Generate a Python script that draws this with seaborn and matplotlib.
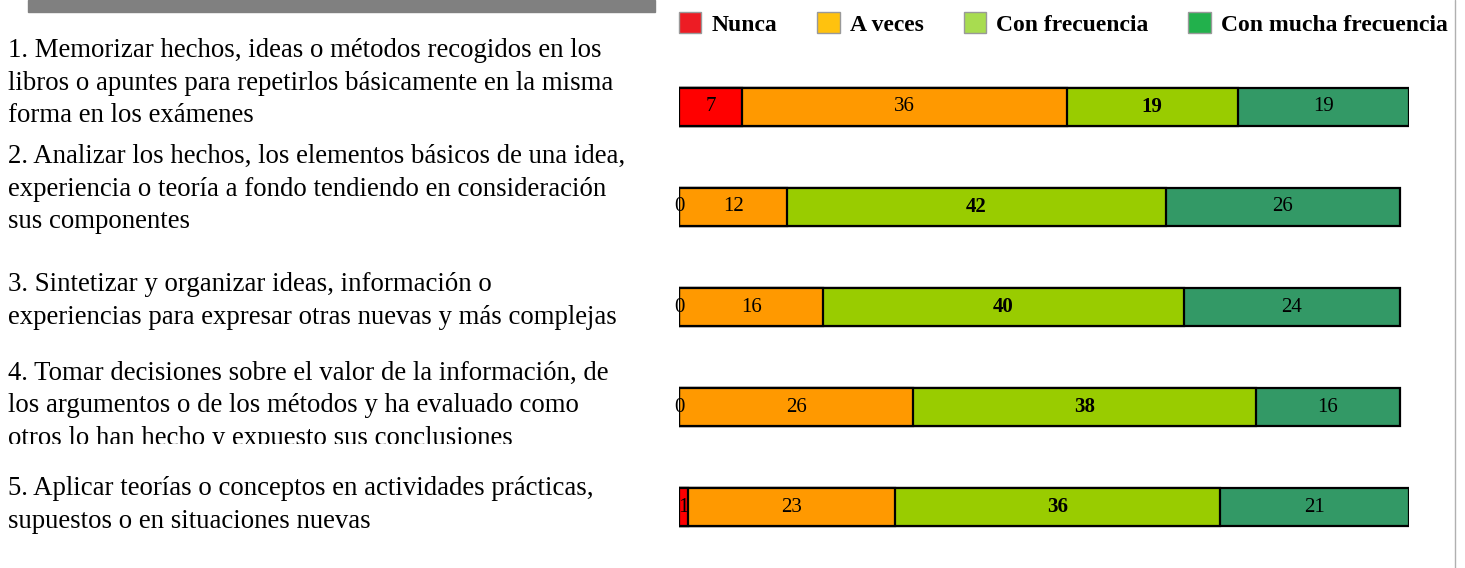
import matplotlib

matplotlib.use("Agg")
import matplotlib.pyplot as plt
import pandas as pd
import seaborn as sns
from matplotlib.lines import Line2D
from matplotlib.patches import Patch, Rectangle
from matplotlib.transforms import Bbox, TransformedBbox


ITEMS = [
    "1. Memorizar hechos, ideas o métodos recogidos en los\n"
    "libros o apuntes para repetirlos básicamente en la misma\n"
    "forma en los exámenes",
    "2. Analizar los hechos, los elementos básicos de una idea,\n"
    "experiencia o teoría a fondo tendiendo en consideración\n"
    "sus componentes",
    "3. Sintetizar y organizar ideas, información o\n"
    "experiencias para expresar otras nuevas y más complejas",
    "4. Tomar decisiones sobre el valor de la información, de\n"
    "los argumentos o de los métodos y ha evaluado como\n"
    "otros lo han hecho y expuesto sus conclusiones",
    "5. Aplicar teorías o conceptos en actividades prácticas,\n"
    "supuestos o en situaciones nuevas",
]
ITEM_IDS = ["1", "2", "3", "4", "5"]
CATEGORIES = ["Nunca", "A veces", "Con frecuencia", "Con mucha frecuencia"]
nunca = [7, 0, 0, 0, 1]
a_veces = [36, 12, 16, 26, 23]
con_frecuencia = [19, 42, 40, 38, 36]
con_mucha_frecuencia = [19, 26, 24, 16, 21]

BAR_COLORS = ["#ff0000", "#ff9900", "#99cc00", "#339966"]
LEGEND_COLORS = ["#ed1c24", "#ffc20e", "#a8dc50", "#22b14c"]

W, H = 1465, 568


def fx(px):
    return px / W


def fy(py):
    return 1 - py / H


df = pd.DataFrame(
    {
        "item": ITEM_IDS,
        "Nunca": nunca,
        "A veces": a_veces,
        "Con frecuencia": con_frecuencia,
        "Con mucha frecuencia": con_mucha_frecuencia,
    }
)
cum = df[CATEGORIES].cumsum(axis=1)

sns.set_theme(style="white")
plt.rcParams["font.family"] = ["Liberation Serif", "DejaVu Serif"]
plt.rcParams["text.color"] = "black"

fig = plt.figure(figsize=(W / 100, H / 100), dpi=100)
ax = fig.add_axes([fx(679), fy(557), 730 / W, 500 / H])

# stacked bars: draw cumulative totals from the widest down
for cat, color in reversed(list(zip(CATEGORIES, BAR_COLORS))):
    sns.barplot(
        x=cum[cat],
        y=df["item"],
        order=ITEM_IDS,
        orient="h",
        color=color,
        saturation=1,
        width=0.38,
        edgecolor="black",
        linewidth=1.6,
        ax=ax,
    )

for i in range(len(ITEM_IDS)):
    for j, cat in enumerate(CATEGORIES):
        value = df.loc[i, cat]
        center = cum.loc[i, cat] - value / 2
        ax.text(
            center,
            i,
            str(value),
            ha="center",
            va="center",
            fontsize=15,
            fontweight="bold" if cat == "Con frecuencia" else "normal",
            color="black",
        )

ax.set_xlim(0, 81)
ax.set_ylim(4.5, -0.5)
ax.set_axis_off()

# item descriptions on the left
label_centers = [83, 189, 301, 406, 505]
for text, yc in zip(ITEMS, label_centers):
    t = fig.text(fx(8), fy(yc), text, ha="left", va="center", fontsize=19.3, linespacing=1.38, color="black")
    if text.startswith("4."):
        t.set_clip_box(TransformedBbox(Bbox([[0, fy(444)], [fx(660), 1]]), fig.transFigure))
        t.set_clip_on(True)

handles = [Patch(facecolor=c, edgecolor="#999999", linewidth=1) for c in LEGEND_COLORS]
fig.legend(
    handles,
    CATEGORIES,
    loc="center left",
    bbox_to_anchor=(fx(679), fy(24)),
    ncol=4,
    frameon=False,
    prop={"weight": "bold", "size": 17},
    handlelength=0.95,
    handleheight=0.95,
    handletextpad=0.42,
    columnspacing=1.7,
    borderpad=0,
    borderaxespad=0,
)

# decorative bits from the original slide
fig.patches.append(
    Rectangle((fx(28), fy(12)), 627 / W, 12 / H, transform=fig.transFigure, color="#808080")
)
fig.lines.append(Line2D([fx(1455), fx(1455)], [0, 1], transform=fig.transFigure, color="#b0b0b0", linewidth=1))

fig.savefig("out.png", dpi=100)
plt.close(fig)
